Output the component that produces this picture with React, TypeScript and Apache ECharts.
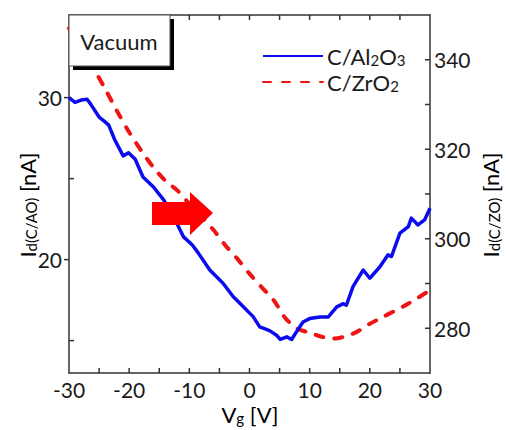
import React, { useEffect, useRef } from 'react';
import * as echarts from 'echarts';

// C/Al2O3 (left axis, nA)
const alVg = [-30, -29, -28, -27, -26.4, -25, -24, -23.4, -22.4, -21, -20.1, -19, -17.7, -16, -14.3, -12.9, -11, -9.5, -8.5, -6.6, -4.4, -2.7, -1.6, 0.6, 1.7, 2.6, 3.4, 4.5, 5.1, 6.2, 7, 7.8, 8.9, 10, 11.7, 13.1, 14.5, 15.6, 16.1, 17.2, 18.9, 20, 21.7, 23, 23.6, 25, 26.4, 26.9, 28, 29.1, 30];
const alId = [30.0, 29.7, 29.85, 29.9, 29.6, 28.8, 28.5, 28.3, 27.4, 26.4, 26.6, 26.2, 25.1, 24.5, 23.7, 22.86, 21.42, 20.9, 20.4, 19.36, 18.54, 17.71, 17.3, 16.48, 15.85, 15.72, 15.6, 15.33, 15.07, 15.23, 15.07, 15.54, 16.15, 16.36, 16.46, 16.46, 17.08, 17.28, 17.18, 18.33, 19.36, 18.85, 19.57, 20.29, 20.19, 21.63, 22.04, 22.56, 22.14, 22.45, 23.17];

// C/ZrO2 (right axis, nA)
const zrVg = [-30, -28, -26, -24, -22, -20, -18, -16, -14, -12, -10, -8, -6, -4, -2, 0, 2, 4, 6, 8, 10, 12, 14, 16, 18, 20, 22, 24, 26, 28, 30];
const zrId = [347, 343, 338.3, 333.5, 328.5, 323.8, 319.7, 316, 313, 310.8, 307.8, 305, 302, 298.5, 295.5, 292.2, 289.2, 286.3, 282.2, 279.9, 279, 278.1, 277.7, 278.2, 279.3, 281, 282.4, 283.8, 285.2, 286.8, 288.5];

// axis ranges and tick values
const X_MIN = -30;
const X_MAX = 30;
const L_MIN = 13;
const L_MAX = 35.1;
const R_MIN = 270;
const R_MAX = 350;
const xTicks = [-30, -20, -10, 0, 10, 20, 30];
const xTickMarks = [-25, -20, -15, -10, -5, 0, 5, 10, 15, 20, 25];
const leftLabels = [20, 30];
const leftMajorTicks = [20, 30];
const leftMinorTicks = [15, 25];
const rightLabels = [280, 300, 320, 340];
const rightTickMarks = [280, 290, 300, 310, 320, 330, 340];

const FONT = 'Lato';
const AXIS_COLOR = '#333333';
const TEXT_COLOR = '#1a1a1a';

const ls = () => ({ color: AXIS_COLOR, width: 1.5 });

// kind: 0 bottom (inward), 1 top (inward), 2 left inward, 3 right inward, 4 left outward
const renderTick = (_params: any, api: any) => {
  const p = api.coord([api.value(0), api.value(1)]);
  const k = api.value(2);
  const L = 5;
  let x2 = p[0];
  let y2 = p[1];
  if (k === 0) y2 = p[1] - L;
  else if (k === 1) y2 = p[1] + L;
  else if (k === 2) x2 = p[0] + L;
  else if (k === 3) x2 = p[0] - L;
  else x2 = p[0] - L;
  return {
    type: 'line',
    shape: { x1: p[0], y1: p[1], x2, y2 },
    style: { stroke: AXIS_COLOR, lineWidth: 1.5 },
  };
};

export default function App() {
  const ref = useRef<HTMLDivElement>(null);
  useEffect(() => {
    if (!ref.current) return;
    const chart = echarts.init(ref.current, undefined, { renderer: 'svg' });
    const subRich = {
      m: { fontSize: 22, lineHeight: 22, fontFamily: FONT, color: TEXT_COLOR, verticalAlign: 'top' },
      s: { fontSize: 15, lineHeight: 14, fontFamily: FONT, color: TEXT_COLOR, verticalAlign: 'bottom', padding: [11, 0, 0, 0] },
    };
    const legendNames: Record<string, string> = {
      'C/Al2O3': '{m|C/Al}{s|2}{m|O}{s|3}',
      'C/ZrO2': '{m|C/ZrO}{s|2}',
    };
    const leftTickData = [
      ...xTickMarks.map((v) => [v, L_MIN, 0]),
      ...xTickMarks.map((v) => [v, L_MAX, 1]),
      ...leftMinorTicks.map((v) => [X_MIN, v, 2]),
      ...leftMajorTicks.map((v) => [X_MIN, v, 4]),
    ];
    const rightTickData = rightTickMarks.map((v) => [X_MAX, v, 3]);
    chart.setOption({
      animation: false,
      grid: { left: 69, right: 76, top: 15, bottom: 57 },
      legend: {
        orient: 'vertical',
        left: 262,
        top: 41,
        padding: 0,
        itemWidth: 60,
        itemHeight: 14,
        itemGap: 0,
        selectedMode: false,
        itemStyle: { opacity: 0 },
        formatter: (name: string) => legendNames[name] ?? name,
        textStyle: { rich: subRich, padding: [0, 0, 0, -1] },
        data: ['C/Al2O3', 'C/ZrO2'],
      },
      xAxis: [
        {
          type: 'value',
          position: 'bottom',
          min: X_MIN,
          max: X_MAX,
          interval: 10,
          axisLine: { show: true, onZero: false, lineStyle: ls() },
          splitLine: { show: false },
          axisTick: { show: false },
          axisLabel: {
            margin: 6,
            fontSize: 21,
            fontFamily: FONT,
            color: TEXT_COLOR,
            customValues: xTicks,
          },
        },
        {
          type: 'value',
          position: 'top',
          min: X_MIN,
          max: X_MAX,
          interval: 5,
          axisLine: { show: true, onZero: false, lineStyle: ls() },
          splitLine: { show: false },
          axisTick: { show: false },
          axisLabel: { show: false },
        },
      ],
      yAxis: [
        {
          type: 'value',
          position: 'left',
          min: L_MIN,
          max: L_MAX,
          axisLine: { show: true, onZero: false, lineStyle: ls() },
          splitLine: { show: false },
          axisTick: { show: false },
          axisLabel: {
            margin: 7,
            fontSize: 21,
            fontFamily: FONT,
            color: TEXT_COLOR,
            customValues: leftLabels,
          },
        },
        {
          type: 'value',
          position: 'right',
          min: R_MIN,
          max: R_MAX,
          interval: 10,
          axisLine: { show: true, onZero: false, lineStyle: ls() },
          splitLine: { show: false },
          axisTick: { show: false },
          axisLabel: {
            margin: 4,
            fontSize: 21,
            fontFamily: FONT,
            color: TEXT_COLOR,
            customValues: rightLabels,
          },
        },
      ],
      series: [
        {
          name: 'C/Al2O3',
          type: 'line',
          xAxisIndex: 0,
          yAxisIndex: 0,
          symbol: 'none',
          data: alVg.map((v, i) => [v, alId[i]]),
          lineStyle: { color: '#0b0bef', width: 3.5, join: 'round' },
          itemStyle: { color: '#0b0bef' },
          z: 3,
        },
        {
          name: 'C/ZrO2',
          type: 'line',
          xAxisIndex: 0,
          yAxisIndex: 1,
          symbol: 'none',
          smooth: 0.3,
          data: zrVg.map((v, i) => [v, zrId[i]]),
          lineStyle: { color: '#ee1414', width: 4, type: [8, 11], cap: 'round' },
          itemStyle: { color: '#ee1414' },
          z: 2,
        },
        {
          name: 'ticksLeft',
          type: 'custom',
          xAxisIndex: 0,
          yAxisIndex: 0,
          clip: false,
          silent: true,
          dimensions: ['x', 'y', 'k'],
          encode: { x: 0, y: 1 },
          renderItem: renderTick,
          data: leftTickData,
          z: 1,
        },
        {
          name: 'ticksRight',
          type: 'custom',
          xAxisIndex: 0,
          yAxisIndex: 1,
          clip: false,
          silent: true,
          dimensions: ['x', 'y', 'k'],
          encode: { x: 0, y: 1 },
          renderItem: renderTick,
          data: rightTickData,
          z: 1,
        },
      ],
      graphic: [
        { type: 'rect', z: 100, shape: { x: 73, y: 19, width: 101, height: 51 }, style: { fill: '#000' } },
        { type: 'rect', z: 101, shape: { x: 69, y: 15, width: 101, height: 51 }, style: { fill: '#fff', stroke: '#555', lineWidth: 1 } },
        {
          type: 'text', z: 102, x: 119, y: 41,
          style: { text: 'Vacuum', fontSize: 22, fontFamily: FONT, fill: TEXT_COLOR, align: 'center', verticalAlign: 'middle' },
        },
        {
          type: 'polygon', z: 100,
          shape: { points: [[152, 202], [190, 202], [190, 192], [213, 213], [190, 235], [190, 225], [152, 225]] },
          style: { fill: '#ff0000' },
        },
        {
          type: 'text', z: 100, x: 27, y: 205, rotation: Math.PI / 2,
          style: {
            text: '{m|I}{s|d(C/AO)}{m| [nA]}',
            rich: subRich,
            align: 'center', verticalAlign: 'middle',
          },
        },
        {
          type: 'text', z: 100, x: 490, y: 205, rotation: Math.PI / 2,
          style: {
            text: '{m|I}{s|d(C/ZO)}{m| [nA]}',
            rich: subRich,
            align: 'center', verticalAlign: 'middle',
          },
        },
        {
          type: 'text', z: 100, x: 250, y: 414,
          style: {
            text: '{m|V}{s|g}{m| [V]}',
            rich: subRich,
            align: 'center', verticalAlign: 'middle',
          },
        },
      ],
    });
    return () => chart.dispose();
  }, []);
  return <div ref={ref} style={{ width: 506, height: 430, position: 'absolute', left: 0, top: 0 }} />;
}
